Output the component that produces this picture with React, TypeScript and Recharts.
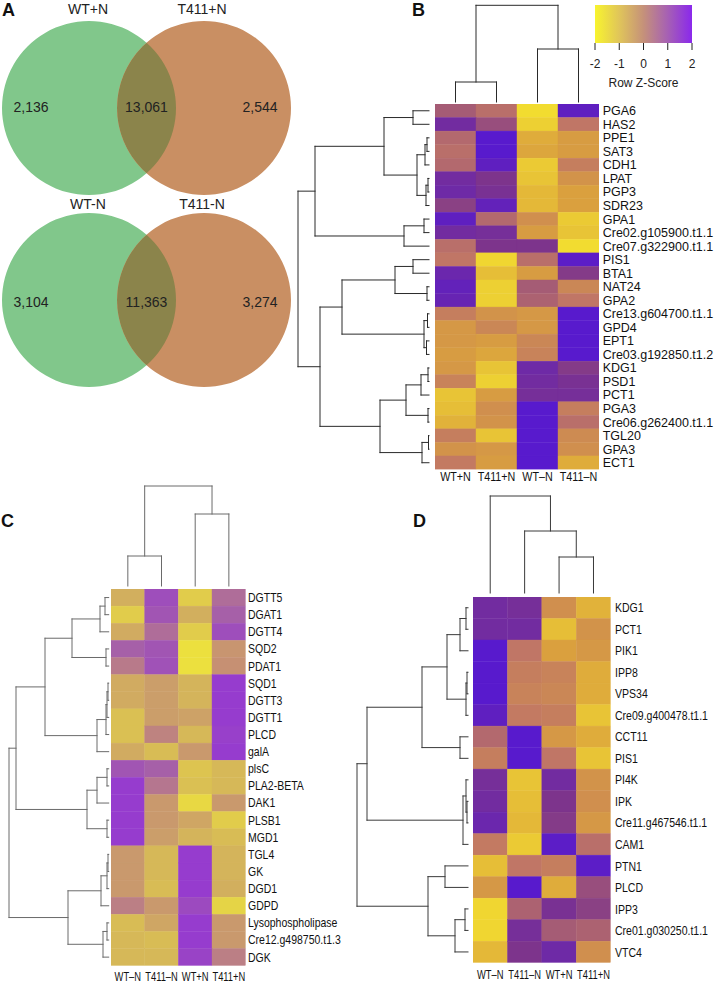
import React from "react";
import { PieChart, Pie, ScatterChart, Scatter, XAxis, YAxis, ReferenceArea, ReferenceLine } from "recharts";

type RGB = [number, number, number];
type Tree = number | [Tree, Tree, number];
type Link = { a: number; b: number; ha: number; hb: number; h: number };

const SANS = "'Liberation Sans', Arial, Helvetica, sans-serif";

// ---- A: Venn diagrams
const vennSets = [["WT+N", "T411+N"], ["WT-N", "T411-N"]];
const vennCounts = [[2136, 13061, 2544], [3104, 11363, 3274]];

// ---- B
const bCols = ["WT+N", "T411+N", "WT–N", "T411–N"];
const bGenes = [
  "PGA6", "HAS2", "PPE1", "SAT3", "CDH1", "LPAT", "PGP3", "SDR23", "GPA1",
  "Cre02.g105900.t1.1", "Cre07.g322900.t1.1", "PIS1", "BTA1", "NAT24", "GPA2",
  "Cre13.g604700.t1.1", "GPD4", "EPT1", "Cre03.g192850.t1.2", "KDG1", "PSD1",
  "PCT1", "PGA3", "Cre06.g262400.t1.1", "TGL20", "GPA3", "ECT1",
];
const bZ = [
  [0.4, 0.1, -2.0, 1.8], [1.3, 0.6, -1.8, 0.0], [0.2, 2.0, -1.2, -0.9], [0.1, 2.0, -1.1, -0.9],
  [0.2, 1.8, -1.7, -0.2], [1.3, 1.0, -1.6, -0.7], [1.4, 1.1, -1.4, -1.0], [0.8, 1.7, -1.4, -1.0],
  [1.8, 0.2, -0.6, -1.7], [1.3, 1.2, -0.9, -1.6], [0.1, 1.0, 1.0, -2.0], [0.0, -1.9, 0.1, 1.9],
  [1.5, -1.5, -0.9, 0.9], [1.7, -1.8, 0.4, -0.4], [1.6, -1.8, 0.3, 0.0], [-0.2, -0.7, -0.8, 2.0],
  [-0.8, -0.4, -0.8, 2.0], [-0.8, -0.9, -0.4, 2.0], [-0.9, -1.1, -0.3, 2.0], [-0.8, -1.6, 1.4, 0.9],
  [-0.3, -1.8, 1.3, 1.1], [-1.6, -0.9, 1.2, 1.2], [-1.5, -0.6, 2.0, -0.2], [-1.3, -0.7, 2.0, 0.1],
  [-0.2, -1.6, 2.0, -0.5], [-0.7, -0.8, 2.0, -0.6], [-0.1, -0.9, 2.0, -1.2],
];
const bRowTree: Tree = [
  [
    [[0, 1, 16], [[[2, 3, 2], 4, 4], [[5, 6, 1], 7, 3], 12], 45],
    [[8, 9, 5], 10, 25],
    114,
  ],
  [
    [[[11, 12, 16], [13, 14, 2], 34], [[15, 16, 1.5], [17, 18, 2.5], 5], 87],
    [[[[19, 20, 1], 21, 8], [22, 23, 1], 23], [[24, 25, 0.5], 26, 7], 49],
    109,
  ],
  131,
];
const bColTree: Tree = [[0, 1, 20], [2, 3, 53], 96.7];

// colour key
const keyTicks = [-2, -1, 0, 1, 2];
const keyColors = ["#f8f42e", "#e0c55a", "#c5917a", "#a660b4", "#8a28ec"];

// ---- C
const cCols = ["WT–N", "T411–N", "WT+N", "T411+N"];
const cGenes = [
  "DGTT5", "DGAT1", "DGTT4", "SQD2", "PDAT1", "SQD1", "DGTT3", "DGTT1", "PLCD", "galA",
  "plsC", "PLA2-BETA", "DAK1", "PLSB1", "MGD1", "TGL4", "GK", "DGD1", "GDPD",
  "Lysophospholipase", "Cre12.g498750.t1.3", "DGK",
];
const cZ = [
  [-0.8, 1.5, -1.5, 0.7], [-1.5, 1.3, -0.8, 1.0], [-0.7, 0.7, -1.5, 1.5], [1.0, 1.3, -2.0, -0.2],
  [0.4, 1.4, -2.0, -0.1], [-0.7, -0.4, -0.9, 2.0], [-0.7, -0.4, -0.9, 2.0], [-1.2, -0.4, -0.5, 2.0],
  [-1.2, 0.2, -1.0, 1.9], [-0.7, -1.1, -0.3, 2.0], [1.3, 1.0, -1.3, -1.0], [2.0, 0.5, -1.2, -1.0],
  [2.0, -0.3, -1.8, -0.3], [2.0, -0.3, -0.6, -1.5], [2.0, -0.4, -0.9, -1.1], [-0.3, -1.0, 2.0, -0.9],
  [-0.3, -1.0, 2.0, -0.9], [-0.3, -1.1, 2.0, -0.8], [0.3, -0.3, 1.6, -1.7], [-1.1, -0.6, 2.0, -0.3],
  [-1.0, -1.1, 2.0, -0.3], [-1.0, -1.0, 1.8, 0.3],
];
const cRowTree: Tree = [
  [
    [[[[0, 1, 3.7], 2, 8.7], [3, 4, 2.7], 36.7], [[[[5, 6, 0.7], 7, 1.7], 8, 2.7], 9, 11.7], 63.7],
    [[[10, 11, 1.7], 12, 11.7], [13, 14, 1.7], 21.7],
    92.7,
  ],
  [[[[15, 16, 0.7], 17, 1.7], 18, 7.7], [[19, 20, 1.7], 21, 5.7], 40.7],
  99.7,
];
const cColTree: Tree = [[0, 1, 30], [2, 3, 72], 100];

// ---- D
const dCols = ["WT–N", "T411–N", "WT+N", "T411+N"];
const dGenes = [
  "KDG1", "PCT1", "PIK1", "IPP8", "VPS34", "Cre09.g400478.t1.1", "CCT11", "PIS1", "PI4K",
  "IPK", "Cre11.g467546.t1.1", "CAM1", "PTN1", "PLCD", "IPP3", "Cre01.g030250.t1.1", "VTC4",
];
const dZ = [
  [1.3, 1.2, -0.6, -1.3], [1.3, 1.3, -1.5, -0.7], [2.0, 0.0, -1.0, -0.8], [2.0, -0.2, -0.3, -1.2],
  [2.0, -0.3, -0.4, -1.2], [1.8, -0.1, -0.2, -1.6], [0.2, 2.0, -0.8, -1.2], [-0.2, 2.0, 0.0, -1.6],
  [1.2, -1.6, 1.3, -0.7], [1.3, -1.5, 1.0, -0.6], [1.5, -1.4, 0.9, -0.8], [-0.1, -1.7, 1.9, 0.1],
  [-1.5, 0.0, -0.2, 1.9], [-0.8, 2.0, -1.2, 0.6], [-1.9, 0.3, 1.1, 0.8], [-1.9, 1.2, 0.4, 0.3],
  [-1.4, 1.0, 1.4, -0.6],
];
const dRowTree: Tree = [
  [
    [[[[0, 1, 2], 2, 8], [[3, 4, 1], 5, 2], 21], [6, 7, 8], 46],
    [[8, [9, 10, 1], 2], 11, 5],
    101,
  ],
  [[12, 13, 23], [[14, 15, 3], 16, 13], 40],
  111,
];
const dColTree: Tree = [0, [1, [2, 3, 36], 62], 97];

// palettes, z = -2 .. 2
const darkStops: RGB[] = [[242, 220, 48], [218, 160, 62], [192, 118, 102], [125, 52, 140], [88, 26, 205]];
const lightStops: RGB[] = [[236, 224, 62], [214, 184, 88], [196, 140, 118], [166, 96, 168], [150, 60, 206]];

function zColor(z: number, stops: RGB[]) {
  const t = Math.max(0, Math.min(4, z + 2));
  const i = Math.min(3, Math.floor(t));
  const f = t - i;
  const a = stops[i], b = stops[i + 1];
  const c = a.map((v, k) => Math.round(v + (b[k] - v) * f));
  return `rgb(${c[0]},${c[1]},${c[2]})`;
}

function walk(t: Tree, out: Link[]): { pos: number; h: number } {
  if (typeof t === "number") return { pos: t + 0.5, h: 0 };
  const l = walk(t[0], out);
  const r = walk(t[1], out);
  out.push({ a: l.pos, b: r.pos, ha: l.h, hb: r.h, h: t[2] });
  return { pos: (l.pos + r.pos) / 2, h: t[2] };
}

type Box = { x: number; y: number; w: number; h: number };
type Heat = { x0: number; y0: number; x1: number; y1: number };
type TickFont = { size: number; sx: number };

type HeatProps = {
  box: Box;
  heat: Heat;
  cols: string[];
  genes: string[];
  z: number[][];
  stops: RGB[];
  rowTree: Tree;
  colTree: Tree;
  rowGap: number;
  colGap: number;
  line: string;
  xFont: TickFont;
  yFont: TickFont;
  xTick: [number, number];
  yTick: [number, number];
  letter: string;
  letterAt: [number, number];
};

// axis tick text, squeezed sideways to imitate the narrow typeface of the figure
function SqueezedTick(props: any) {
  const { x, y, payload, labels, font, anchor, dy } = props;
  return (
    <g transform={`translate(${x},${y}) scale(${font.sx},1)`}>
      <text x={0} y={0} dy={dy} textAnchor={anchor} fontSize={font.size} fontFamily={SANS} fill="#111">
        {labels[Math.floor(payload.value)]}
      </text>
    </g>
  );
}

function Heatmap(p: HeatProps) {
  const n = p.genes.length;
  const m = p.cols.length;
  const colPx = (p.heat.x1 - p.heat.x0) / m;
  const rowPx = (p.heat.y1 - p.heat.y0) / n;
  const toX = (h: number) => -(p.rowGap + h) / colPx;
  const toY = (h: number) => -(p.colGap + h) / rowPx;

  const cells = p.z.flatMap((row, r) =>
    row.map((v, c) => ({ x: c + 0.5, y: r + 0.5, color: zColor(v, p.stops) }))
  );

  const segs: { x1: number; y1: number; x2: number; y2: number }[] = [];
  const rl: Link[] = [];
  walk(p.rowTree, rl);
  rl.forEach((l) => {
    segs.push({ x1: toX(l.ha), y1: l.a, x2: toX(l.h), y2: l.a });
    segs.push({ x1: toX(l.hb), y1: l.b, x2: toX(l.h), y2: l.b });
    segs.push({ x1: toX(l.h), y1: l.a, x2: toX(l.h), y2: l.b });
  });
  const cl: Link[] = [];
  walk(p.colTree, cl);
  cl.forEach((l) => {
    segs.push({ x1: l.a, y1: toY(l.ha), x2: l.a, y2: toY(l.h) });
    segs.push({ x1: l.b, y1: toY(l.hb), x2: l.b, y2: toY(l.h) });
    segs.push({ x1: l.a, y1: toY(l.h), x2: l.b, y2: toY(l.h) });
  });

  const cellShape = (s: any) => (
    <rect
      x={s.cx - colPx / 2}
      y={s.cy - rowPx / 2}
      width={colPx}
      height={rowPx}
      fill={s.payload.color}
      stroke={s.payload.color}
      strokeWidth={0.4}
    />
  );

  return (
    <div style={{ position: "absolute", left: p.box.x, top: p.box.y }}>
      <ScatterChart
        width={p.box.w}
        height={p.box.h}
        margin={{ top: p.heat.y0 - p.box.y, left: p.heat.x0 - p.box.x, right: 0, bottom: 0 }}
      >
        <XAxis
          type="number"
          dataKey="x"
          domain={[0, m]}
          allowDataOverflow
          ticks={p.cols.map((_, i) => i + 0.5)}
          interval={0}
          axisLine={false}
          tickLine={false}
          tickSize={p.xTick[0]}
          tickMargin={p.xTick[1]}
          height={p.box.y + p.box.h - p.heat.y1}
          tick={(t: any) => <SqueezedTick {...t} labels={p.cols} font={p.xFont} anchor="middle" dy="0.71em" />}
        />
        <YAxis
          type="number"
          dataKey="y"
          domain={[0, n]}
          allowDataOverflow
          reversed
          orientation="right"
          ticks={p.genes.map((_, i) => i + 0.5)}
          interval={0}
          axisLine={false}
          tickLine={false}
          tickSize={p.yTick[0]}
          tickMargin={p.yTick[1]}
          width={p.box.x + p.box.w - p.heat.x1}
          tick={(t: any) => <SqueezedTick {...t} labels={p.genes} font={p.yFont} anchor="start" dy="0.355em" />}
        />
        <Scatter data={cells} shape={cellShape} isAnimationActive={false} />
        {segs.map((s, i) => (
          <ReferenceLine
            key={`s${i}`}
            segment={[{ x: s.x1, y: s.y1 }, { x: s.x2, y: s.y2 }]}
            stroke={p.line}
            strokeWidth={1}
            strokeLinecap="square"
            ifOverflow="visible"
          />
        ))}
        <text x={p.letterAt[0]} y={p.letterAt[1]} fontSize={18} fontWeight="bold" fontFamily={SANS} fill="#111">
          {p.letter}
        </text>
      </ScatterChart>
    </div>
  );
}

const GREEN = "#81c78b";
const ORANGE = "#c98f63";
const OLIVE = "#8b844b";
const venn = { cxL: 89, cxR: 204, r: 87, cy: [108, 300], labelY: [14, 209], countY: [112, 307] };

function VennPanel() {
  const fmt = (v: number) => v.toLocaleString("en-US");
  const half = (venn.cxR - venn.cxL) / 2;
  const counts = (k: number) => () => (
    <g fontFamily={SANS} fill="#222" textAnchor="middle" fontSize={14}>
      <text x={venn.cxL - 58} y={venn.countY[k]}>{fmt(vennCounts[k][0])}</text>
      <text x={venn.cxL + half} y={venn.countY[k]}>{fmt(vennCounts[k][1])}</text>
      <text x={venn.cxR + 56} y={venn.countY[k]}>{fmt(vennCounts[k][2])}</text>
    </g>
  );
  return (
    <div style={{ position: "absolute", left: 0, top: 0 }}>
      <style>{vennSets.map((_, k) => `.venn-lens-${k}{clip-path:url(#venn-clip-${k});}`).join("")}</style>
      <PieChart width={330} height={395} margin={{ top: 0, left: 0, right: 0, bottom: 0 }}>
        <defs>
          {vennSets.map((_, k) => (
            <clipPath key={k} id={`venn-clip-${k}`}>
              <circle cx={venn.cxR} cy={venn.cy[k]} r={venn.r} />
            </clipPath>
          ))}
        </defs>
        {vennSets.map((_, k) => (
          <Pie
            key={`g${k}`}
            data={[{ v: 1 }]}
            dataKey="v"
            cx={venn.cxL}
            cy={venn.cy[k]}
            outerRadius={venn.r}
            startAngle={90}
            endAngle={-270}
            fill={GREEN}
            stroke="none"
            isAnimationActive={false}
          />
        ))}
        {vennSets.map((_, k) => (
          <Pie
            key={`o${k}`}
            data={[{ v: 1 }]}
            dataKey="v"
            cx={venn.cxR}
            cy={venn.cy[k]}
            outerRadius={venn.r}
            startAngle={90}
            endAngle={-270}
            fill={ORANGE}
            stroke="none"
            isAnimationActive={false}
          />
        ))}
        {vennSets.map((_, k) => (
          <Pie
            key={`l${k}`}
            className={`venn-lens-${k}`}
            data={[{ v: 1 }]}
            dataKey="v"
            cx={venn.cxL}
            cy={venn.cy[k]}
            outerRadius={venn.r}
            startAngle={90}
            endAngle={-270}
            fill={OLIVE}
            stroke="none"
            label={counts(k)}
            labelLine={false}
            isAnimationActive={false}
          />
        ))}
        {vennSets.map((s, k) => (
          <g key={`t${k}`} fontFamily={SANS} fill="#222" textAnchor="middle" fontSize={14}>
            <text x={venn.cxL - 1} y={venn.labelY[k]}>{s[0]}</text>
            <text x={venn.cxR - 2} y={venn.labelY[k]}>{s[1]}</text>
          </g>
        ))}
        <text x={2} y={16} fontSize={18} fontWeight="bold" fontFamily={SANS} fill="#111">A</text>
      </PieChart>
    </div>
  );
}

function ColorKey() {
  return (
    <div style={{ position: "absolute", left: 580, top: 0 }}>
      <ScatterChart width={130} height={95} margin={{ top: 5, left: 15, right: 18, bottom: 0 }}>
        <defs>
          <linearGradient id="zkey" x1="0" y1="0" x2="1" y2="0">
            {keyColors.map((c, i) => (
              <stop key={i} offset={`${(i * 100) / (keyColors.length - 1)}%`} stopColor={c} />
            ))}
          </linearGradient>
        </defs>
        <XAxis
          type="number"
          dataKey="x"
          domain={[-2, 2]}
          allowDataOverflow
          ticks={keyTicks}
          interval={0}
          axisLine={false}
          tickLine={{ stroke: "#222" }}
          tickSize={7}
          tickMargin={9}
          height={52}
          tick={{ fontSize: 12, fill: "#222", fontFamily: SANS }}
          label={{ value: "Row Z-Score", position: "insideBottom", offset: 8, fontSize: 12, fill: "#222", fontFamily: SANS }}
        />
        <YAxis type="number" dataKey="y" domain={[0, 1]} allowDataOverflow hide />
        <ReferenceArea x1={-2} x2={2} y1={0} y2={1} fill="url(#zkey)" fillOpacity={1} />
        <Scatter data={keyTicks.map((t) => ({ x: t, y: 0.5 }))} shape={() => <g />} isAnimationActive={false} />
      </ScatterChart>
    </div>
  );
}

export default function App() {
  return (
    <div style={{ position: "absolute", left: 0, top: 0, width: 717, height: 985, background: "#fff", overflow: "hidden" }}>
      <VennPanel />
      <Heatmap
        box={{ x: 290, y: 0, w: 427, h: 490 }}
        heat={{ x0: 435, y0: 104, x1: 599, y1: 469.5 }}
        cols={bCols}
        genes={bGenes}
        z={bZ}
        stops={darkStops}
        rowTree={bRowTree}
        colTree={bColTree}
        rowGap={6}
        colGap={2}
        line="#2a2a2a"
        xFont={{ size: 12.5, sx: 0.86 }}
        yFont={{ size: 12.5, sx: 1 }}
        xTick={[1, 1.5]}
        yTick={[2, 1.7]}
        letter="B"
        letterAt={[122, 16]}
      />
      <ColorKey />
      <Heatmap
        box={{ x: 0, y: 480, w: 360, h: 505 }}
        heat={{ x0: 111, y0: 589, x1: 245.7, y1: 965.7 }}
        cols={cCols}
        genes={cGenes}
        z={cZ}
        stops={lightStops}
        rowTree={cRowTree}
        colTree={cColTree}
        rowGap={2.3}
        colGap={3}
        line="#6a6a6a"
        xFont={{ size: 12, sx: 0.78 }}
        yFont={{ size: 12.5, sx: 0.84 }}
        xTick={[2, 5]}
        yTick={[1, 1.3]}
        letter="C"
        letterAt={[1, 47]}
      />
      <Heatmap
        box={{ x: 350, y: 480, w: 367, h: 505 }}
        heat={{ x0: 473, y0: 597, x1: 610.7, y1: 962.7 }}
        cols={dCols}
        genes={dGenes}
        z={dZ}
        stops={darkStops}
        rowTree={dRowTree}
        colTree={dColTree}
        rowGap={5}
        colGap={4}
        line="#3a3a3a"
        xFont={{ size: 12, sx: 0.78 }}
        yFont={{ size: 13, sx: 0.81 }}
        xTick={[2, 6]}
        yTick={[2, 2.3]}
        letter="D"
        letterAt={[63, 47]}
      />
    </div>
  );
}
